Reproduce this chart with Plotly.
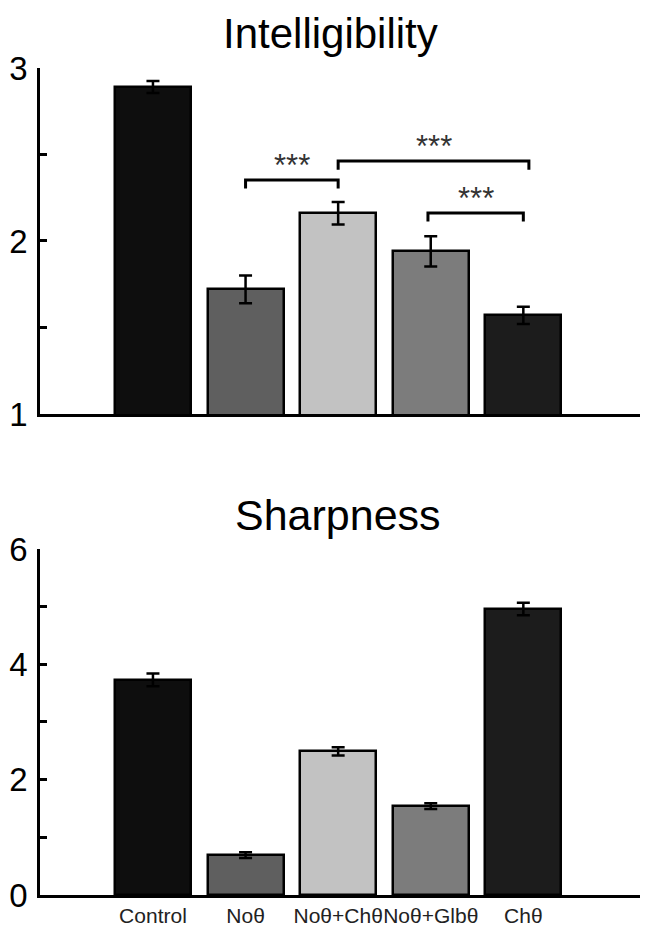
import plotly.graph_objects as go

categories = ["Control", "Noθ", "Noθ+Chθ", "Noθ+Glbθ", "Chθ"]
intel_vals = [2.89, 1.72, 2.16, 1.94, 1.57]
intel_err = [0.035, 0.08, 0.065, 0.087, 0.05]
sharp_vals = [3.73, 0.69, 2.49, 1.54, 4.96]
sharp_err = [0.11, 0.05, 0.07, 0.05, 0.11]
bar_colors = ["#0e0e0e", "#5f5f5f", "#c2c2c2", "#7c7c7c", "#1c1c1c"]

intel_ticks = [1, 1.5, 2, 2.5, 3]
intel_ticktext = ["1", "", "2", "", "3"]
sharp_ticks = [0, 1, 2, 3, 4, 5, 6]
sharp_ticktext = ["0", "", "2", "", "4", "", "6"]

# significance brackets: (left category idx, right category idx, bracket height, label)
brackets = [(1.0, 2.0, 2.353, "***"), (2.0, 4.06, 2.462, "***"), (2.97, 4.0, 2.162, "***")]
bracket_drop = 0.05
star_offset = 0.085

xpos = list(range(len(categories)))
FONT = "Liberation Sans, Arial, sans-serif"

fig = go.Figure()
for vals, errs, ax in [(intel_vals, intel_err, ("x", "y")), (sharp_vals, sharp_err, ("x2", "y2"))]:
    fig.add_trace(go.Bar(
        x=xpos, y=vals, width=0.82, xaxis=ax[0], yaxis=ax[1],
        marker=dict(color=bar_colors, line=dict(color="#000000", width=2.5)),
        error_y=dict(type="data", array=errs, color="#000000", thickness=2.5, width=6.5),
        showlegend=False,
    ))

for x0, x1, yb, lab in brackets:
    fig.add_shape(type="path", xref="x", yref="y",
                  path=f"M {x0},{yb - bracket_drop} L {x0},{yb} L {x1},{yb} L {x1},{yb - bracket_drop}",
                  line=dict(color="#000000", width=3))
    fig.add_annotation(x=(x0 + x1) / 2, y=yb + star_offset, xref="x", yref="y",
                       text=lab, showarrow=False, yanchor="middle",
                       font=dict(family=FONT, size=31, color="#333333"))

xr = [-1.22, 5.26]
axis_common = dict(showline=True, linecolor="#000000", linewidth=2.5, showgrid=False, zeroline=False)
fig.update_layout(
    width=660, height=946,
    margin=dict(l=32, r=28, t=0, b=0, autoexpand=False),
    paper_bgcolor="white", plot_bgcolor="white",
    font=dict(family=FONT, color="#000000"),
    bargap=0,
    xaxis=dict(domain=[0, 1], range=xr, anchor="y", showticklabels=False, ticks="", **axis_common),
    yaxis=dict(domain=[0.5708, 0.9366], range=[1, 3], anchor="x", tickvals=intel_ticks, ticktext=intel_ticktext,
               ticks="inside", ticklen=7, tickwidth=2.5, tickcolor="#000000", ticklabelstandoff=3,
               tickfont=dict(size=33, family=FONT), **axis_common),
    xaxis2=dict(domain=[0, 1], range=xr, anchor="y2", tickvals=xpos, ticktext=categories, ticks="",
                tickangle=0, tickfont=dict(size=21, family=FONT, color="#222222"), **axis_common),
    yaxis2=dict(domain=[0.0624, 0.4281], range=[0, 6], anchor="x2", tickvals=sharp_ticks, ticktext=sharp_ticktext,
                ticks="inside", ticklen=7, tickwidth=2.5, tickcolor="#000000", ticklabelstandoff=3,
                tickfont=dict(size=33, family=FONT), **axis_common),
)

# Panel titles
fig.add_annotation(x=(322 - 32) / 600, y=(946 - 26) / 946, xref="paper", yref="paper",
                   text="Intelligibility", showarrow=False, xanchor="center", yanchor="middle",
                   font=dict(family=FONT, size=42, color="#000000"))
fig.add_annotation(x=(330 - 32) / 600, y=(946 - 507) / 946, xref="paper", yref="paper",
                   text="Sharpness", showarrow=False, xanchor="center", yanchor="middle",
                   font=dict(family=FONT, size=43, color="#000000"))

fig.write_html("out.html")
